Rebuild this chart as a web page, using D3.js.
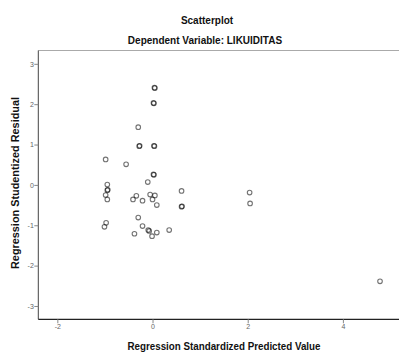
<!DOCTYPE html>
<html><head><meta charset="utf-8">
<script src="https://cdn.jsdelivr.net/npm/d3@7"></script>
<style>body{margin:0;background:#fff}svg{display:block}</style>
</head><body>
<svg id="c" width="399" height="352"></svg>
<script>
const title = "Scatterplot";
const subtitle = "Dependent Variable: LIKUIDITAS";
const xLabel = "Regression Standardized Predicted Value";
const yLabel = "Regression Studentized Residual";
const xTicks = [-2, 0, 2, 4];
const yTicks = [-3, -2, -1, 0, 1, 2, 3];
const predicted = [0.04,0.05,0.02,0.03,-0.30,-0.28,-0.27,0.03,0.04,-0.985,-0.555,0.02,0.03,-0.10,-0.95,-0.95,-0.94,-0.985,-0.95,-0.34,-0.41,-0.21,-0.05,0.05,0.00,0.09,0.61,0.61,0.62,-0.30,-0.21,-0.09,-0.07,-0.01,0.09,0.35,-0.38,-0.975,-1.01,2.04,2.05,4.78];
const residual = [2.41,2.40,2.03,2.02,1.43,0.96,0.97,0.97,0.96,0.63,0.51,0.26,0.25,0.07,0.01,-0.13,-0.12,-0.25,-0.36,-0.27,-0.36,-0.39,-0.24,-0.26,-0.36,-0.50,-0.15,-0.54,-0.53,-0.81,-1.02,-1.12,-1.14,-1.27,-1.18,-1.12,-1.21,-0.94,-1.04,-0.19,-0.46,-2.39];

const svg = d3.select("#c");
const x = d3.scaleLinear().domain([-2.4, 5.2]).range([38.3, 400]);
const y = d3.scaleLinear().domain([-3.33, 3.33]).range([319.3, 50.5]);
const font = "'Liberation Sans', Arial, sans-serif";

svg.append("text").attr("x", 207).attr("y", 23.5).attr("text-anchor","middle")
  .attr("font-family", font).attr("font-weight","bold").attr("font-size","10px").attr("fill","#111").text(title);
svg.append("text").attr("x", 205).attr("y", 43.5).attr("text-anchor","middle")
  .attr("font-family", font).attr("font-weight","bold").attr("font-size","10px").attr("fill","#111").text(subtitle);

svg.append("line").attr("x1", 38.3).attr("x2", 400).attr("y1", 50.5).attr("y2", 50.5)
  .attr("stroke", "#aaa").attr("stroke-width", 1);

const yAxis = svg.append("g").attr("transform", "translate(38.3,0)")
  .call(d3.axisLeft(y).tickValues(yTicks).tickSize(4).tickFormat(d => String(d)));
yAxis.select(".domain").attr("stroke", "#444").attr("d", "M0,50.5V319.3");
yAxis.selectAll(".tick line").attr("stroke", "#888");
yAxis.selectAll(".tick text").attr("font-family", font).attr("font-size","7px").attr("fill","#666").attr("x", -4.5);

const xAxis = svg.append("g").attr("transform", "translate(0,319.3)")
  .call(d3.axisBottom(x).tickValues(xTicks).tickSize(4).tickFormat(d => String(d)));
xAxis.select(".domain").attr("stroke", "#222").attr("stroke-width", 1.3).attr("d", "M38.3,0H400");
xAxis.selectAll(".tick line").attr("stroke", "#888");
xAxis.selectAll(".tick text").attr("font-family", font).attr("font-size","7px").attr("fill","#666").attr("y", 5);

svg.append("text").attr("x", 224).attr("y", 349.5).attr("text-anchor","middle")
  .attr("font-family", font).attr("font-weight","bold").attr("font-size","10px").attr("fill","#111")
  .attr("textLength", 193).attr("lengthAdjust","spacingAndGlyphs").text(xLabel);
svg.append("text").attr("transform", "translate(18.5,183) rotate(-90)").attr("text-anchor","middle")
  .attr("font-family", font).attr("font-weight","bold").attr("font-size","10px").attr("fill","#111")
  .attr("textLength", 172).attr("lengthAdjust","spacingAndGlyphs").text(yLabel);

svg.append("g").selectAll("circle").data(predicted.map((p, i) => [p, residual[i]]))
  .join("circle").attr("cx", d => x(d[0])).attr("cy", d => y(d[1])).attr("r", 2.3)
  .attr("fill", "none").attr("stroke", "#000").attr("stroke-opacity", 0.55).attr("stroke-width", 1.1);
</script>
</body></html>
